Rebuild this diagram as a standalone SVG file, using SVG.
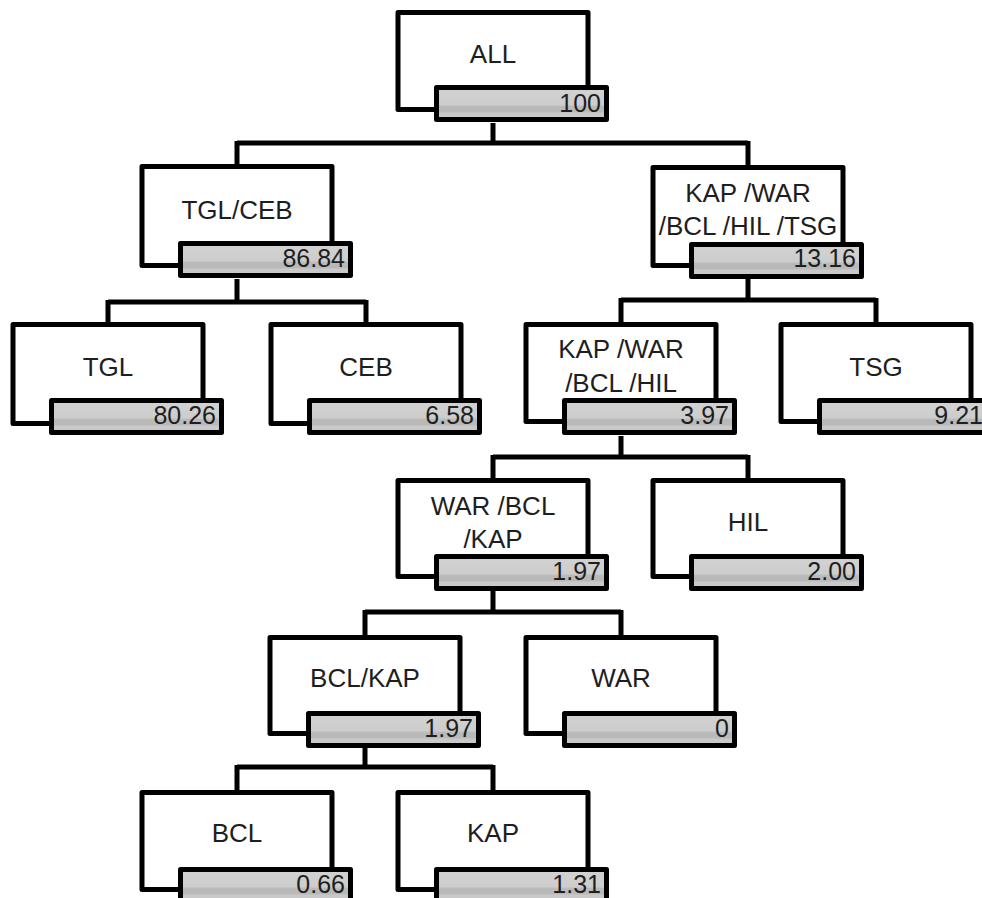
<svg xmlns="http://www.w3.org/2000/svg" width="982" height="898" viewBox="0 0 982 898">
<defs>
<linearGradient id="barg" x1="0" y1="0" x2="0" y2="1">
<stop offset="0" stop-color="#d2d2d2"/>
<stop offset="0.54" stop-color="#cdcdcd"/>
<stop offset="0.6" stop-color="#b9b9b9"/>
<stop offset="0.76" stop-color="#b9b9b9"/>
<stop offset="0.8" stop-color="#c9c9c9"/>
<stop offset="1" stop-color="#c9c9c9"/>
</linearGradient>
</defs>
<style>
.box{fill:#ffffff;stroke:#000000;stroke-width:5;stroke-linejoin:round}
.bar{fill:url(#barg);stroke:#000000;stroke-width:5;stroke-linejoin:round}
.lbl{font-family:"Liberation Sans",Arial,sans-serif;font-size:26px;fill:#1e1e1e;text-anchor:middle}
.num{font-family:"Liberation Sans",Arial,sans-serif;font-size:25px;fill:#1e1e1e;text-anchor:end}
.con{fill:none;stroke:#000000;stroke-width:5;stroke-linejoin:miter}
</style>
<rect width="982" height="898" fill="#ffffff"/>
<g id="connectors">
<path class="con" d="M493,123 V143 M237,143 H748 M237,141 V166 M748,141 V166"/>
<path class="con" d="M237,279 V302 M108,302 H366 M108,300 V324 M366,300 V324"/>
<path class="con" d="M748,279 V300 M621,300 H876 M621,298 V324 M876,298 V324"/>
<path class="con" d="M621,436 V457 M493,457 H748 M493,455 V480 M748,455 V480"/>
<path class="con" d="M493,591 V612 M365,612 H621 M365,610 V637 M621,610 V637"/>
<path class="con" d="M365,748 V767 M237,767 H493 M237,765 V792 M493,765 V792"/>
</g>
<g id="node-all">
<rect class="box" x="398" y="12.5" width="190" height="97"/>
<rect class="bar" x="436.5" y="87.5" width="170" height="32"/>
<text class="lbl" x="493" y="63">ALL</text>
<text class="num" x="601" y="112">100</text>
</g>
<g id="node-tglceb">
<rect class="box" x="142" y="166.5" width="190" height="99"/>
<rect class="bar" x="180.5" y="243.5" width="170" height="32"/>
<text class="lbl" x="237" y="219">TGL/CEB</text>
<text class="num" x="345" y="267">86.84</text>
</g>
<g id="node-kapwarbclhiltsg">
<rect class="box" x="653" y="167.5" width="190" height="98"/>
<rect class="bar" x="691.5" y="244.5" width="170" height="32"/>
<text class="lbl" x="748" y="202">KAP /WAR</text>
<text class="lbl" x="748" y="235">/BCL /HIL /TSG</text>
<text class="num" x="856" y="267">13.16</text>
</g>
<g id="node-tgl">
<rect class="box" x="13" y="324.5" width="190" height="99"/>
<rect class="bar" x="51.5" y="400.5" width="170" height="32"/>
<text class="lbl" x="108" y="376">TGL</text>
<text class="num" x="216" y="424">80.26</text>
</g>
<g id="node-ceb">
<rect class="box" x="271" y="324.5" width="190" height="99"/>
<rect class="bar" x="309.5" y="400.5" width="170" height="32"/>
<text class="lbl" x="366" y="376">CEB</text>
<text class="num" x="474" y="424">6.58</text>
</g>
<g id="node-kapwarbclhil">
<rect class="box" x="526" y="324.5" width="190" height="97"/>
<rect class="bar" x="564.5" y="400.5" width="170" height="32"/>
<text class="lbl" x="621" y="358">KAP /WAR</text>
<text class="lbl" x="621" y="392">/BCL /HIL</text>
<text class="num" x="729" y="424">3.97</text>
</g>
<g id="node-tsg">
<rect class="box" x="781" y="324.5" width="190" height="97"/>
<rect class="bar" x="819.5" y="400.5" width="170" height="32"/>
<text class="lbl" x="876" y="376">TSG</text>
<text class="num" x="983" y="424">9.21</text>
</g>
<g id="node-warbclkap">
<rect class="box" x="398" y="480.5" width="190" height="96"/>
<rect class="bar" x="436.5" y="556.5" width="170" height="32"/>
<text class="lbl" x="493" y="515">WAR /BCL</text>
<text class="lbl" x="493" y="548">/KAP</text>
<text class="num" x="601" y="580">1.97</text>
</g>
<g id="node-hil">
<rect class="box" x="653" y="480.5" width="190" height="96"/>
<rect class="bar" x="691.5" y="556.5" width="170" height="32"/>
<text class="lbl" x="748" y="531">HIL</text>
<text class="num" x="856" y="580">2.00</text>
</g>
<g id="node-bclkap">
<rect class="box" x="270" y="637.5" width="190" height="96"/>
<rect class="bar" x="308.5" y="713.5" width="170" height="32"/>
<text class="lbl" x="365" y="687">BCL/KAP</text>
<text class="num" x="473" y="737">1.97</text>
</g>
<g id="node-war">
<rect class="box" x="526" y="637.5" width="190" height="96"/>
<rect class="bar" x="564.5" y="713.5" width="170" height="32"/>
<text class="lbl" x="621" y="687">WAR</text>
<text class="num" x="729" y="737">0</text>
</g>
<g id="node-bcl">
<rect class="box" x="142" y="792.5" width="190" height="97"/>
<rect class="bar" x="180.5" y="869.5" width="170" height="32"/>
<text class="lbl" x="237" y="842">BCL</text>
<text class="num" x="345" y="893">0.66</text>
</g>
<g id="node-kap">
<rect class="box" x="398" y="792.5" width="190" height="97"/>
<rect class="bar" x="436.5" y="869.5" width="170" height="32"/>
<text class="lbl" x="493" y="842">KAP</text>
<text class="num" x="601" y="893">1.31</text>
</g>
</svg>
